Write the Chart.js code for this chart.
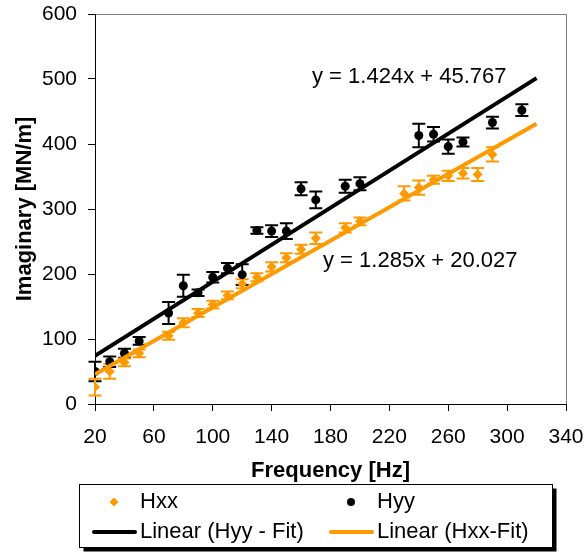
<!DOCTYPE html>
<html>
<head>
<meta charset="utf-8">
<script src="https://cdn.jsdelivr.net/npm/chart.js@4.4.0/dist/chart.umd.min.js"></script>
<style>
  html, body { margin: 0; padding: 0; background: #fff; }
  #wrap { width: 585px; height: 552px; }
</style>
</head>
<body>
<div id="wrap"><canvas id="myChart" width="585" height="552"></canvas></div>
<script>
// values
const hxxFreq = [20, 30, 40, 50, 70, 80, 90, 100, 110, 120, 130, 140, 150, 160, 170, 190, 200, 230, 240, 250, 260, 270, 280, 290];
const hxxImag = [26, 50, 64, 78, 105, 125, 140, 153, 167, 185, 195, 211, 225, 238, 255, 271, 281, 324, 333, 345, 351, 355, 353, 384];
const hxxErr = [13, 11, 6, 6, 6, 7, 6, 6, 6, 7, 6, 7, 7, 7, 9, 7, 6, 11, 11, 6, 8, 8, 10, 11];

const hyyFreq = [20, 30, 40, 50, 70, 80, 90, 100, 110, 120, 130, 140, 150, 160, 170, 190, 200, 240, 250, 260, 270, 290, 310];
const hyyImag = [50, 65, 78, 97, 140, 182, 171, 195, 209, 199, 267, 266, 266, 331, 314, 335, 339, 413, 415, 396, 403, 433, 452];
const hyyErr = [15, 8, 7, 6, 17, 17, 5, 8, 8, 16, 5, 9, 12, 10, 13, 10, 10, 18, 11, 11, 7, 9, 9];

// trendline end points
const fitFreq = [20, 320];
const hyyFit = [74.2, 501.4];
const hxxFit = [45.7, 431.2];

const xTicks = [20, 60, 100, 140, 180, 220, 260, 300, 340];
const yTicks = [0, 100, 200, 300, 400, 500, 600];

const legendLabels = ["Hxx", "Hyy", "Linear (Hyy - Fit)", "Linear (Hxx-Fit)"];
const equations = ["y = 1.424x + 45.767", "y = 1.285x + 20.027"];

const ORANGE = "#ff9900";
const BLACK = "#000000";
const FONT = '"Liberation Sans", Arial, Helvetica, sans-serif';

Chart.defaults.font.family = FONT;
Chart.defaults.color = "#000";

function pts(xs, ys) {
  return xs.map((x, i) => ({ x: x, y: ys[i] }));
}

const errorBars = {
  id: "errorBars",
  beforeDatasetsDraw(chart) {
    const ctx = chart.ctx;
    const xs = chart.scales.x;
    const ys = chart.scales.y;
    const sets = [
      [hyyFreq, hyyImag, hyyErr, BLACK],
      [hxxFreq, hxxImag, hxxErr, ORANGE],
    ];
    ctx.save();
    ctx.lineWidth = 2;
    sets.forEach(([fx, fy, fe, col]) => {
      ctx.strokeStyle = col;
      fx.forEach((f, i) => {
        const px = xs.getPixelForValue(f);
        const top = ys.getPixelForValue(fy[i] + fe[i]);
        const bot = ys.getPixelForValue(fy[i] - fe[i]);
        ctx.beginPath();
        ctx.moveTo(px, top);
        ctx.lineTo(px, bot);
        ctx.moveTo(px - 6.5, top);
        ctx.lineTo(px + 6.5, top);
        ctx.moveTo(px - 6.5, bot);
        ctx.lineTo(px + 6.5, bot);
        ctx.stroke();
      });
    });
    ctx.restore();
  },
};

const frameAndText = {
  id: "frameAndText",
  beforeDraw(chart) {
    const { ctx, chartArea } = chart;
    ctx.save();
    ctx.strokeStyle = "#808080";
    ctx.lineWidth = 1;
    ctx.beginPath();
    ctx.moveTo(chartArea.left, chartArea.top + 0.5);
    ctx.lineTo(chartArea.right + 0.5, chartArea.top + 0.5);
    ctx.lineTo(chartArea.right + 0.5, chartArea.bottom);
    ctx.stroke();
    ctx.restore();
  },
  afterDraw(chart) {
    const ctx = chart.ctx;
    ctx.save();
    ctx.fillStyle = "#000";
    ctx.font = "22px " + FONT;
    ctx.textBaseline = "middle";
    ctx.textAlign = "left";
    ctx.fillText(equations[0], 312, 77);
    ctx.fillText(equations[1], 323, 261);

    // legend box with shadow
    const bx = 79.5, by = 484.5, bw = 473, bh = 63;
    ctx.fillStyle = "#000";
    ctx.fillRect(bx + 4, by + 4, bw, bh);
    ctx.fillStyle = "#fff";
    ctx.fillRect(bx, by, bw, bh);
    ctx.strokeStyle = "#000";
    ctx.lineWidth = 1;
    ctx.strokeRect(bx, by, bw, bh);

    const r1 = 502, r2 = 532;
    // Hxx diamond
    ctx.fillStyle = ORANGE;
    ctx.beginPath();
    ctx.moveTo(114 - 4.5, r1);
    ctx.lineTo(114, r1 - 4.5);
    ctx.lineTo(114 + 4.5, r1);
    ctx.lineTo(114, r1 + 4.5);
    ctx.closePath();
    ctx.fill();
    // Hyy dot
    ctx.fillStyle = BLACK;
    ctx.beginPath();
    ctx.arc(351, r1, 4, 0, Math.PI * 2);
    ctx.fill();
    // fit line samples
    ctx.lineWidth = 4;
    ctx.lineCap = "round";
    ctx.strokeStyle = BLACK;
    ctx.beginPath();
    ctx.moveTo(94, r2);
    ctx.lineTo(135, r2);
    ctx.stroke();
    ctx.strokeStyle = ORANGE;
    ctx.beginPath();
    ctx.moveTo(331, r2);
    ctx.lineTo(372, r2);
    ctx.stroke();

    ctx.fillStyle = "#000";
    ctx.fillText(legendLabels[0], 140, r1);
    ctx.fillText(legendLabels[1], 377, r1);
    ctx.fillText(legendLabels[2], 140, r2);
    ctx.fillText(legendLabels[3], 377, r2);
    ctx.restore();
  },
};

const ctx = document.getElementById("myChart").getContext("2d");

const myChart = new Chart(ctx, {
  type: "scatter",
  data: {
    datasets: [
      {
        label: legendLabels[2],
        type: "line",
        data: pts(fitFreq, hyyFit),
        borderColor: BLACK,
        borderWidth: 4,
        pointRadius: 0,
        fill: false,
        order: 0,
      },
      {
        label: legendLabels[3],
        type: "line",
        data: pts(fitFreq, hxxFit),
        borderColor: ORANGE,
        borderWidth: 4,
        pointRadius: 0,
        fill: false,
        order: 0,
      },
      {
        label: legendLabels[1],
        data: pts(hyyFreq, hyyImag),
        pointStyle: "circle",
        pointRadius: 4.5,
        backgroundColor: BLACK,
        borderColor: BLACK,
        borderWidth: 0,
        order: 1,
      },
      {
        label: legendLabels[0],
        data: pts(hxxFreq, hxxImag),
        pointStyle: "rectRot",
        pointRadius: 5,
        backgroundColor: ORANGE,
        borderColor: ORANGE,
        borderWidth: 0,
        order: 1,
      },
    ],
  },
  options: {
    responsive: false,
    animation: false,
    devicePixelRatio: 1,
    layout: { padding: { left: 0, top: 14, right: 19, bottom: 68 } },
    plugins: {
      legend: { display: false },
      tooltip: { enabled: false },
    },
    scales: {
      x: {
        type: "linear",
        min: 20,
        max: 340,
        afterBuildTicks: (scale) => {
          scale.ticks = xTicks.map((v) => ({ value: v }));
        },
        afterFit: (scale) => {
          scale.height = 80;
          scale.paddingLeft = 0;
          scale.paddingRight = 0;
        },
        ticks: {
          font: { size: 21 },
          padding: 14,
          maxRotation: 0,
          autoSkip: false,
        },
        grid: {
          drawOnChartArea: false,
          drawTicks: true,
          tickLength: 7,
          color: "#000",
        },
        border: { color: "#000", width: 1 },
        title: {
          display: true,
          text: "Frequency [Hz]",
          font: { size: 22, weight: "bold" },
          padding: { top: 0, bottom: 0 },
        },
      },
      y: {
        type: "linear",
        min: 0,
        max: 600,
        afterBuildTicks: (scale) => {
          scale.ticks = yTicks.map((v) => ({ value: v }));
        },
        afterFit: (scale) => {
          scale.width = 95;
          scale.paddingTop = 0;
          scale.paddingBottom = 0;
        },
        ticks: {
          font: { size: 21 },
          padding: 11,
        },
        grid: {
          drawOnChartArea: false,
          drawTicks: true,
          tickLength: 7,
          color: "#000",
        },
        border: { color: "#000", width: 1 },
        title: {
          display: true,
          text: "Imaginary [MN/m]",
          font: { size: 22, weight: "bold" },
          padding: { top: 12, bottom: 0 },
        },
      },
    },
  },
  plugins: [errorBars, frameAndText],
});
</script>
</body>
</html>
